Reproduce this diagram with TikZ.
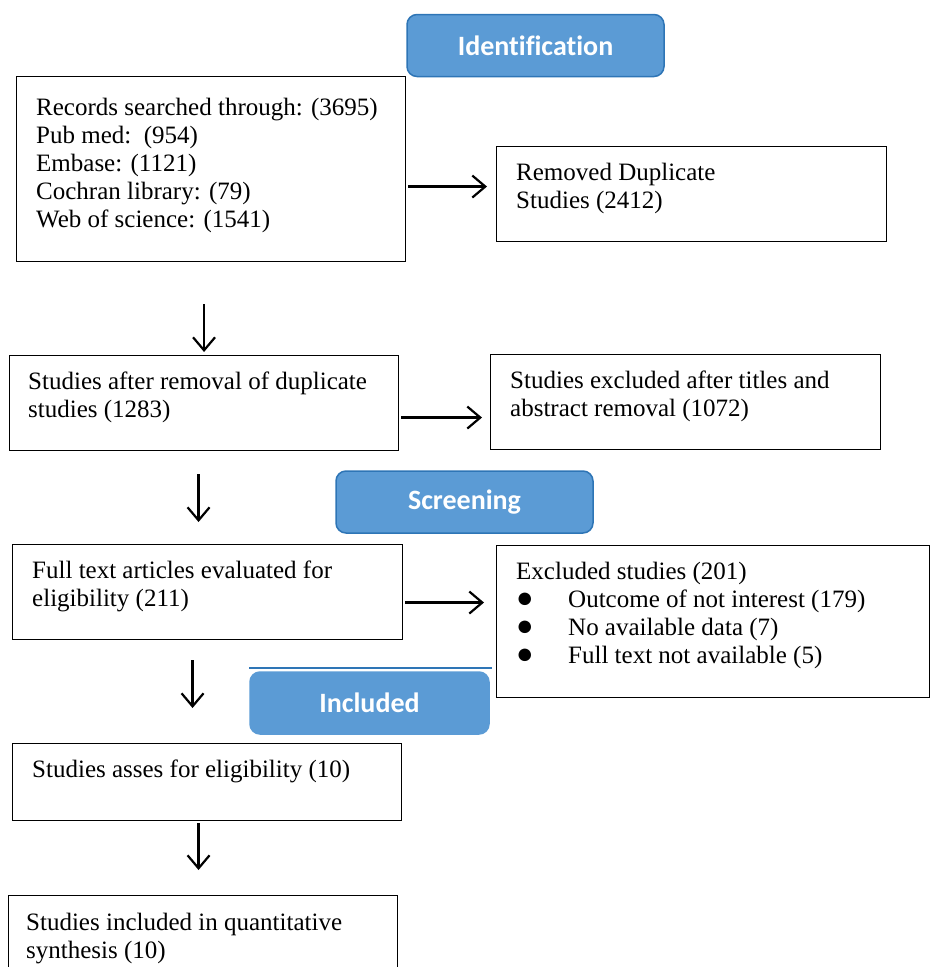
\documentclass[tikz,border=0pt]{standalone}
\usepackage{fontspec}
\setmainfont{Liberation Serif}
\newfontfamily\bannerfont[Ligatures=NoCommon]{Carlito}
\usetikzlibrary{positioning,arrows.meta}
\definecolor{bannerfill}{RGB}{91,155,213}
\definecolor{bannerline}{RGB}{46,117,182}
\newcommand{\blackdot}{\makebox[52pt][l]{\smash{\fontsize{29}{28}\selectfont ●}}}
\tikzset{
  box/.style={draw, line width=1.1pt, anchor=north west, inner sep=0pt},
  boxtext/.style={anchor=north west, inner sep=0pt, align=left, font=\fontsize{25}{28}\selectfont},
  banner/.style={draw=bannerline, line width=1.5pt, fill=bannerfill, rounded corners=10pt, text=white,
    font=\bannerfont\bfseries\fontsize{28}{30}\selectfont, minimum width=257pt, minimum height=62pt},
  arr/.style={-{Straight Barb[length=13pt,width=22pt]}, line width=2.2pt}
}
\begin{document}
\begin{tikzpicture}[x=1pt,y=-1pt]
\useasboundingbox (0,0) rectangle (933,967);
\clip (0,0) rectangle (933,967);

% stage banners
\node[banner] (ident) at (535.5,45.5) {Identification};
\node[banner] (screen) at (464.5,502) {Screening};
\node[banner, draw=bannerfill, minimum width=239pt] (incl) at (369.5,703) {Included};
\draw[bannerline, line width=2pt] ([yshift=3pt]incl.north west) -- ([xshift=2pt,yshift=3pt]incl.north east);

% boxes
\node[box, minimum width=389pt, minimum height=185pt] (rec) at (16,76) {};
\node[box, minimum width=390pt, minimum height=95pt] (dup) at (496,146) {};
\node[box, minimum width=389pt, minimum height=95pt] (after) at (9,355) {};
\node[box, minimum width=390pt, minimum height=95pt] (excla) at (490,354) {};
\node[box, minimum width=390pt, minimum height=95pt] (full) at (12,544) {};
\node[box, minimum width=433pt, minimum height=152pt] (exclb) at (496,545) {};
\node[box, minimum width=389pt, minimum height=77pt] (asses) at (12,743) {};
\node[box, minimum width=389pt, minimum height=110pt] (synth) at (8,895) {};

% texts
\node[boxtext, below right=22pt and 20pt of rec.north west] (rec-t) {Records searched through: (3695)\\
  Pub med:\ \ (954)\\ Embase: (1121)\\ Cochran library: (79)\\ Web of science: (1541)};
\node[boxtext, below right=17pt and 20pt of dup.north west] (dup-t) {Removed Duplicate\\ Studies (2412)};
\node[boxtext, below right=17pt and 19pt of after.north west] (after-t) {Studies after removal of duplicate\\ studies (1283)};
\node[boxtext, below right=17pt and 20pt of excla.north west] (excla-t) {Studies excluded after titles and\\ abstract removal (1072)};
\node[boxtext, below right=17pt and 20pt of full.north west] (full-t) {Full text articles evaluated for\\ eligibility (211)};
\node[boxtext, below right=17pt and 20pt of exclb.north west] (exclb-t) {Excluded studies (201)\\
  \blackdot Outcome of not interest (179)\\
  \blackdot No available data (7)\\
  \blackdot Full text not available (5)};
\node[boxtext, below right=17pt and 20pt of asses.north west] (asses-t) {Studies asses for eligibility (10)};
\node[boxtext, below right=18pt and 18pt of synth.north west] (synth-t) {Studies included in quantitative\\ synthesis (10)};

% arrows
\draw[arr, shorten <=2pt, shorten >=9pt] ([yshift=-17.5pt]rec.east) -- ([yshift=-17.5pt]rec.east -| dup.west);
\draw[arr, shorten <=2pt, shorten >=8pt] ([yshift=-14.5pt]after.east) -- ([yshift=-14.5pt]after.east -| excla.west);
\draw[arr, shorten <=2pt, shorten >=12pt] ([yshift=-10.5pt]full.east) -- ([yshift=-10.5pt]full.east -| exclb.west);
\draw[arr, shorten <=42pt, shorten >=3pt] (rec.south -| after.north) -- (after.north);
\draw[arr, shorten <=23pt, shorten >=22pt] ([xshift=-5.5pt]after.south) -- ([xshift=-5.5pt]after.south |- full.north);
\draw[arr, shorten <=20pt, shorten >=35pt] ([xshift=-15pt]full.south) -- ([xshift=-15pt]full.south |- asses.north);
\draw[arr, shorten <=2pt, shorten >=25pt] ([xshift=-8.5pt]asses.south) -- ([xshift=-8.5pt]asses.south |- synth.north);
\end{tikzpicture}
\end{document}
